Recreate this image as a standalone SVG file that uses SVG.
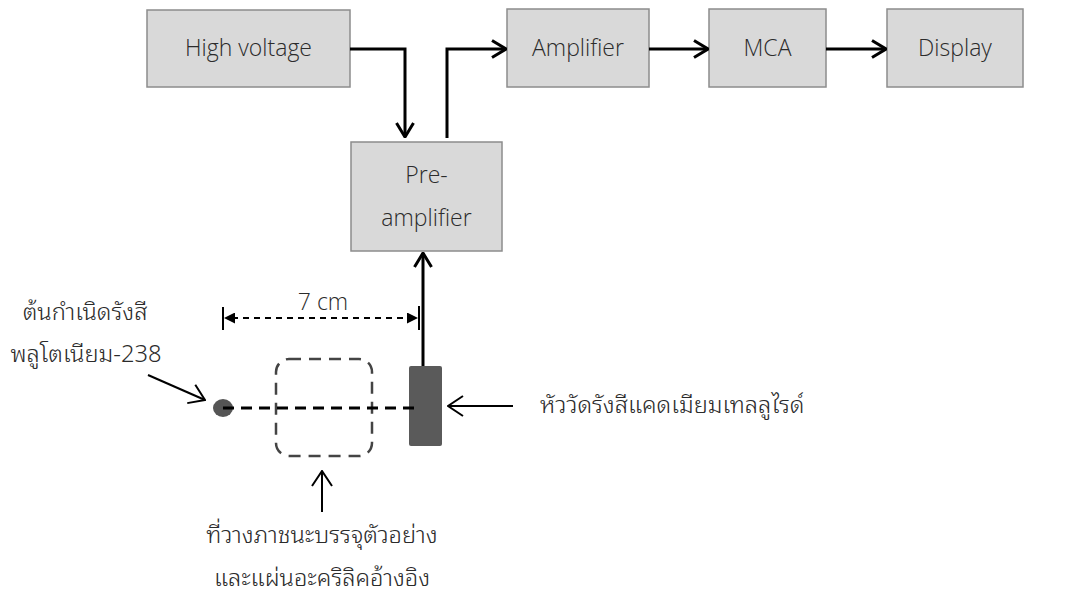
<svg xmlns="http://www.w3.org/2000/svg" width="1080" height="596" viewBox="0 0 1080 596">
  <style>
    .box { fill: #d9d9d9; stroke: #8c8c8c; stroke-width: 1.5; }
    .lbl { font-family: "Open Sans", "Noto Sans", "Noto Sans Thai", sans-serif; font-size: 23px; font-weight: 300; fill: #2b2b2b; }
    .th { font-family: "Noto Sans Thai Looped", "Noto Sans Thai", "Noto Sans", "DejaVu Sans", sans-serif; font-size: 23.7px; font-weight: 300; fill: #2b2b2b; }
    .wire { fill: none; stroke: #000000; stroke-width: 3; }
    .thin { fill: none; stroke: #000000; stroke-width: 2; }
    .beam { fill: none; stroke: #000000; stroke-width: 3; stroke-dasharray: 11 7; }
    .dim { fill: none; stroke: #000000; stroke-width: 2; stroke-dasharray: 6 5; }
  </style>
  <defs>
    <marker id="open" viewBox="0 0 16 20" refX="15" refY="10" markerWidth="16" markerHeight="20" markerUnits="userSpaceOnUse" orient="auto">
      <path d="M1,1.5 L15,10 L1,18.5" fill="none" stroke="#000" stroke-width="3"/>
    </marker>
    <marker id="openThin" viewBox="0 0 17 22" refX="16" refY="11" markerWidth="17" markerHeight="22" markerUnits="userSpaceOnUse" orient="auto">
      <path d="M1,1 L16,11 L1,21" fill="none" stroke="#000" stroke-width="2"/>
    </marker>
    <marker id="solid" viewBox="0 0 10 10" refX="10" refY="5" markerWidth="11" markerHeight="11" markerUnits="userSpaceOnUse" orient="auto">
      <path d="M0,0 L10,5 L0,10 Z" fill="#000"/>
    </marker>
  </defs>

  <!-- signal chain blocks -->
  <g id="high-voltage">
    <rect class="box" x="147" y="10" width="203" height="77"/>
    <text class="lbl" x="248.5" y="56" text-anchor="middle">High voltage</text>
  </g>
  <g id="amplifier">
    <rect class="box" x="507" y="9" width="142" height="78"/>
    <text class="lbl" x="578" y="56" text-anchor="middle">Amplifier</text>
  </g>
  <g id="mca">
    <rect class="box" x="709" y="9" width="117" height="78"/>
    <text class="lbl" x="767.5" y="56" text-anchor="middle">MCA</text>
  </g>
  <g id="display">
    <rect class="box" x="887" y="9" width="136" height="78"/>
    <text class="lbl" x="955" y="56" text-anchor="middle">Display</text>
  </g>
  <g id="pre-amplifier">
    <rect class="box" x="351" y="142" width="151" height="109"/>
    <text class="lbl" x="426.5" y="183" text-anchor="middle">Pre-</text>
    <text class="lbl" x="426.5" y="226" text-anchor="middle">amplifier</text>
  </g>

  <!-- measurement geometry -->
  <g id="source">
    <ellipse cx="223" cy="408" rx="10" ry="9" fill="#555555"/>
  </g>
  <g id="sample-holder">
    <rect x="276" y="359" width="96" height="97" rx="13" ry="13" fill="none" stroke="#444444" stroke-width="2.5" stroke-dasharray="12 8"/>
  </g>
  <g id="detector">
    <rect x="409" y="366" width="33" height="80" rx="2" ry="2" fill="#5a5a5a"/>
  </g>

  <!-- connectors -->
  <g id="connectors">
    <path class="wire" d="M350,49 H405 V137" marker-end="url(#open)"/>
    <path class="wire" d="M447,138 V49 H506" marker-end="url(#open)"/>
    <path class="wire" d="M649,49 H708" marker-end="url(#open)"/>
    <path class="wire" d="M826,49 H886" marker-end="url(#open)"/>
    <path class="wire" d="M423,366 V253" marker-end="url(#open)"/>
    <path class="beam" d="M223,408 H420"/>
    <!-- 7 cm dimension -->
    <line x1="223" y1="307" x2="223" y2="330" stroke="#000" stroke-width="2"/>
    <line x1="419" y1="306" x2="419" y2="330" stroke="#000" stroke-width="2"/>
    <path class="dim" d="M232,318 H410"/>
    <path d="M234,318 L224,318" stroke="none" marker-end="url(#solid)"/>
    <path d="M408,318 L418,318" stroke="none" marker-end="url(#solid)"/>
    <!-- label pointers -->
    <path class="thin" d="M148,375 L205,400" marker-end="url(#openThin)"/>
    <path class="thin" d="M513,406 H448" marker-end="url(#openThin)"/>
    <path class="thin" d="M322,512 V471" marker-end="url(#openThin)"/>
  </g>

  <!-- labels -->
  <g id="labels">
    <text class="lbl" x="323" y="310" text-anchor="middle">7 cm</text>
    <text class="th" x="85" y="320" text-anchor="middle">ต้นกำเนิดรังสี</text>
    <text class="th" x="86" y="362" text-anchor="middle">พลูโตเนียม-238</text>
    <text class="th" x="540" y="413">หัววัดรังสีแคดเมียมเทลลูไรด์</text>
    <text class="th" x="322" y="543" text-anchor="middle">ที่วางภาชนะบรรจุตัวอย่าง</text>
    <text class="th" x="322" y="586" text-anchor="middle">และแผ่นอะคริลิคอ้างอิง</text>
  </g>
</svg>
